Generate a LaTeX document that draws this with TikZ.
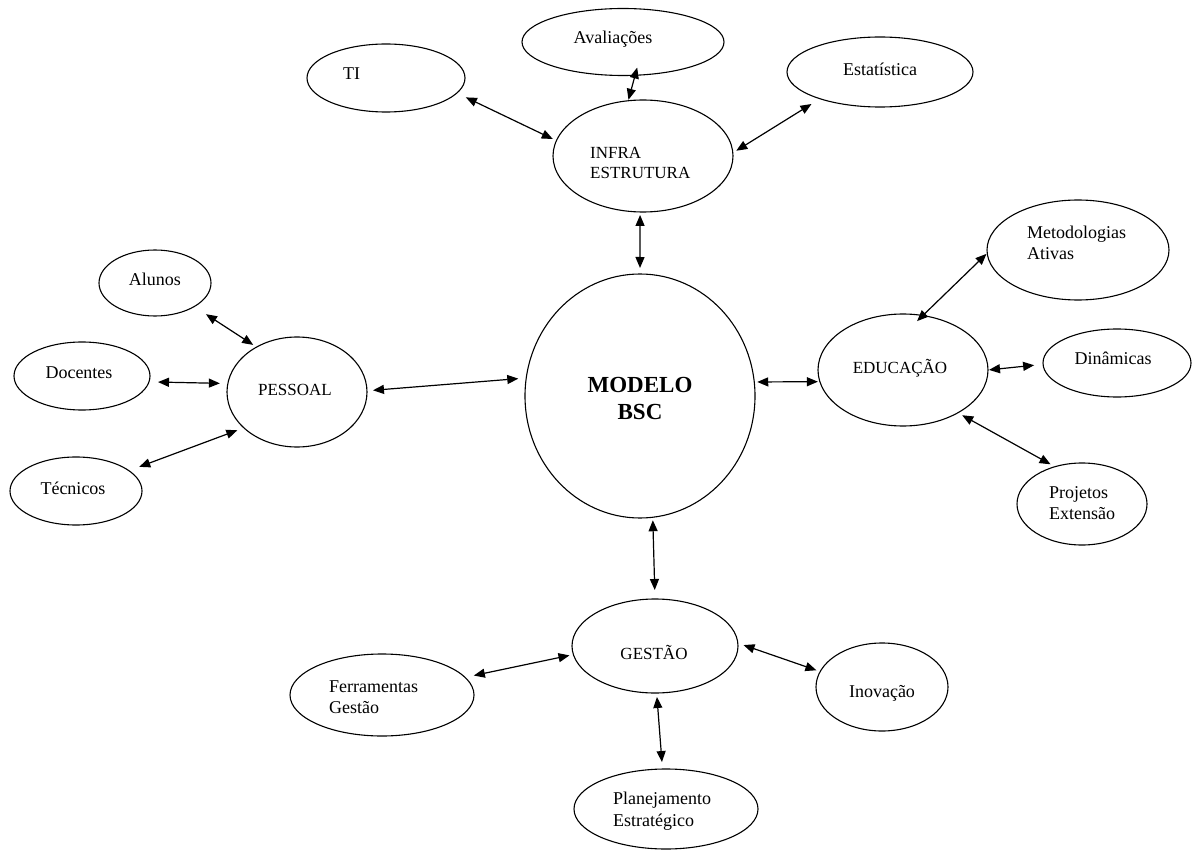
\documentclass[tikz,border=0pt]{standalone}
\usepackage{fontspec}
\setmainfont{Liberation Serif}
\usetikzlibrary{shapes.geometric,arrows.meta}
\begin{document}
\begin{tikzpicture}[x=1pt,y=-1pt,
  ell/.style={draw, ellipse, line width=1.1pt, inner sep=0pt, outer sep=0pt},
  lbl/.style={font=\fontsize{18}{21.5}\selectfont, inner sep=0pt, align=left},
  capslbl/.style={font=\fontsize{17}{19.5}\selectfont, inner sep=0pt, align=left},
  boldlbl/.style={font=\bfseries\fontsize{23}{27}\selectfont, inner sep=0pt, align=center},
  link/.style={{Triangle[length=11pt,width=9pt]}-{Triangle[length=11pt,width=9pt]}, line width=1.2pt, shorten <=4pt, shorten >=4pt}]
\useasboundingbox[fill=white] (0,0) rectangle (1194,850);
% ellipses
\node[ell, minimum width=158pt, minimum height=68pt] (ti) at (386,78) {};
\node[ell, minimum width=202pt, minimum height=67pt] (aval) at (623,42) {};
\node[ell, minimum width=186pt, minimum height=70pt] (estat) at (880,72) {};
\node[ell, minimum width=180pt, minimum height=112pt] (infra) at (643,156) {};
\node[ell, minimum width=230pt, minimum height=244pt] (bsc) at (640,396) {};
\node[ell, minimum width=112pt, minimum height=66pt] (alunos) at (155,283) {};
\node[ell, minimum width=136pt, minimum height=68pt] (docentes) at (82,376) {};
\node[ell, minimum width=132pt, minimum height=68pt] (tecnicos) at (76,491) {};
\node[ell, minimum width=140pt, minimum height=110pt] (pessoal) at (297,392) {};
\node[ell, minimum width=182pt, minimum height=100pt] (metod) at (1078,250) {};
\node[ell, minimum width=170pt, minimum height=112pt] (edu) at (903,370) {};
\node[ell, minimum width=148pt, minimum height=68pt] (din) at (1117,363) {};
\node[ell, minimum width=130pt, minimum height=82pt] (proj) at (1082,504) {};
\node[ell, minimum width=166pt, minimum height=94pt] (gestao) at (655,646) {};
\node[ell, minimum width=184pt, minimum height=82pt] (ferr) at (382,695) {};
\node[ell, minimum width=132pt, minimum height=88pt] (inov) at (882,687) {};
\node[ell, minimum width=184pt, minimum height=80pt] (plan) at (666,809) {};
% labels
\node[lbl, anchor=west] (tiT) at (343,74) {TI};
\node[lbl] (avalT) at (613,39) {Avaliações};
\node[lbl] (estatT) at (880,69) {Estatística};
\node[capslbl, anchor=west] (infraT) at (590,163) {INFRA\\ESTRUTURA};
\node[boldlbl] (bscT) at (640,398) {MODELO\\BSC};
\node[lbl] (alunosT) at (155,279) {Alunos};
\node[lbl] (docentesT) at (79,373) {Docentes};
\node[lbl] (tecnicosT) at (73,488) {Técnicos};
\node[capslbl] (pessoalT) at (295,390) {PESSOAL};
\node[lbl, anchor=west] (metodT) at (1027,243) {Metodologias\\Ativas};
\node[capslbl] (eduT) at (900,368) {EDUCAÇÃO};
\node[lbl] (dinT) at (1113,358) {Dinâmicas};
\node[lbl, anchor=west] (projT) at (1049,503) {Projetos\\Extensão};
\node[capslbl] (gestaoT) at (654,652) {GESTÃO};
\node[lbl, anchor=west] (ferrT) at (329,697) {Ferramentas\\Gestão};
\node[lbl] (inovT) at (882,693) {Inovação};
\node[lbl, anchor=west] (planT) at (613,811) {Planejamento\\Estratégico};
% connectors
\draw[link, shorten <=10pt] (ti.-12) -- (infra.170);
\draw[link, shorten <=-8pt, shorten >=1pt] (aval.-70) -- (infra.105);
\draw[link, shorten >=10pt] (infra.2) -- (estat.-156);
\draw[link, shorten <=3pt, shorten >=6pt] (infra.-93) -- (bsc.90);
\draw[link, shorten <=14pt] (alunos.-31) -- (pessoal.132);
\draw[link, shorten <=9pt, shorten >=8pt] (docentes.-5) -- (pessoal.173);
\draw[link, shorten <=11pt, shorten >=7pt] (tecnicos.21) -- (pessoal.-146);
\draw[link, shorten <=6pt, shorten >=8pt] (pessoal.1.5) -- (bsc.171);
\draw[link, shorten <=3pt, shorten >=2pt] (bsc.7) -- (edu.-172);
\draw[link, shorten <=-8pt, shorten >=1pt] (edu.70) -- (metod.182);
\draw[link, shorten <=1pt, shorten >=9pt] (edu.0) -- (din.181);
\draw[link, shorten <=5pt, shorten >=5pt] (edu.-38) -- (proj.126);
\draw[link, shorten <=3pt, shorten >=9pt] (bsc.-84) -- (gestao.90);
\draw[link, shorten <=4pt, shorten >=9pt] (gestao.-174) -- (ferr.12);
\draw[link, shorten <=6pt, shorten >=4pt] (gestao.2) -- (inov.166);
\draw[link, shorten <=4pt, shorten >=7pt] (gestao.-88) -- (plan.95);
\end{tikzpicture}
\end{document}
